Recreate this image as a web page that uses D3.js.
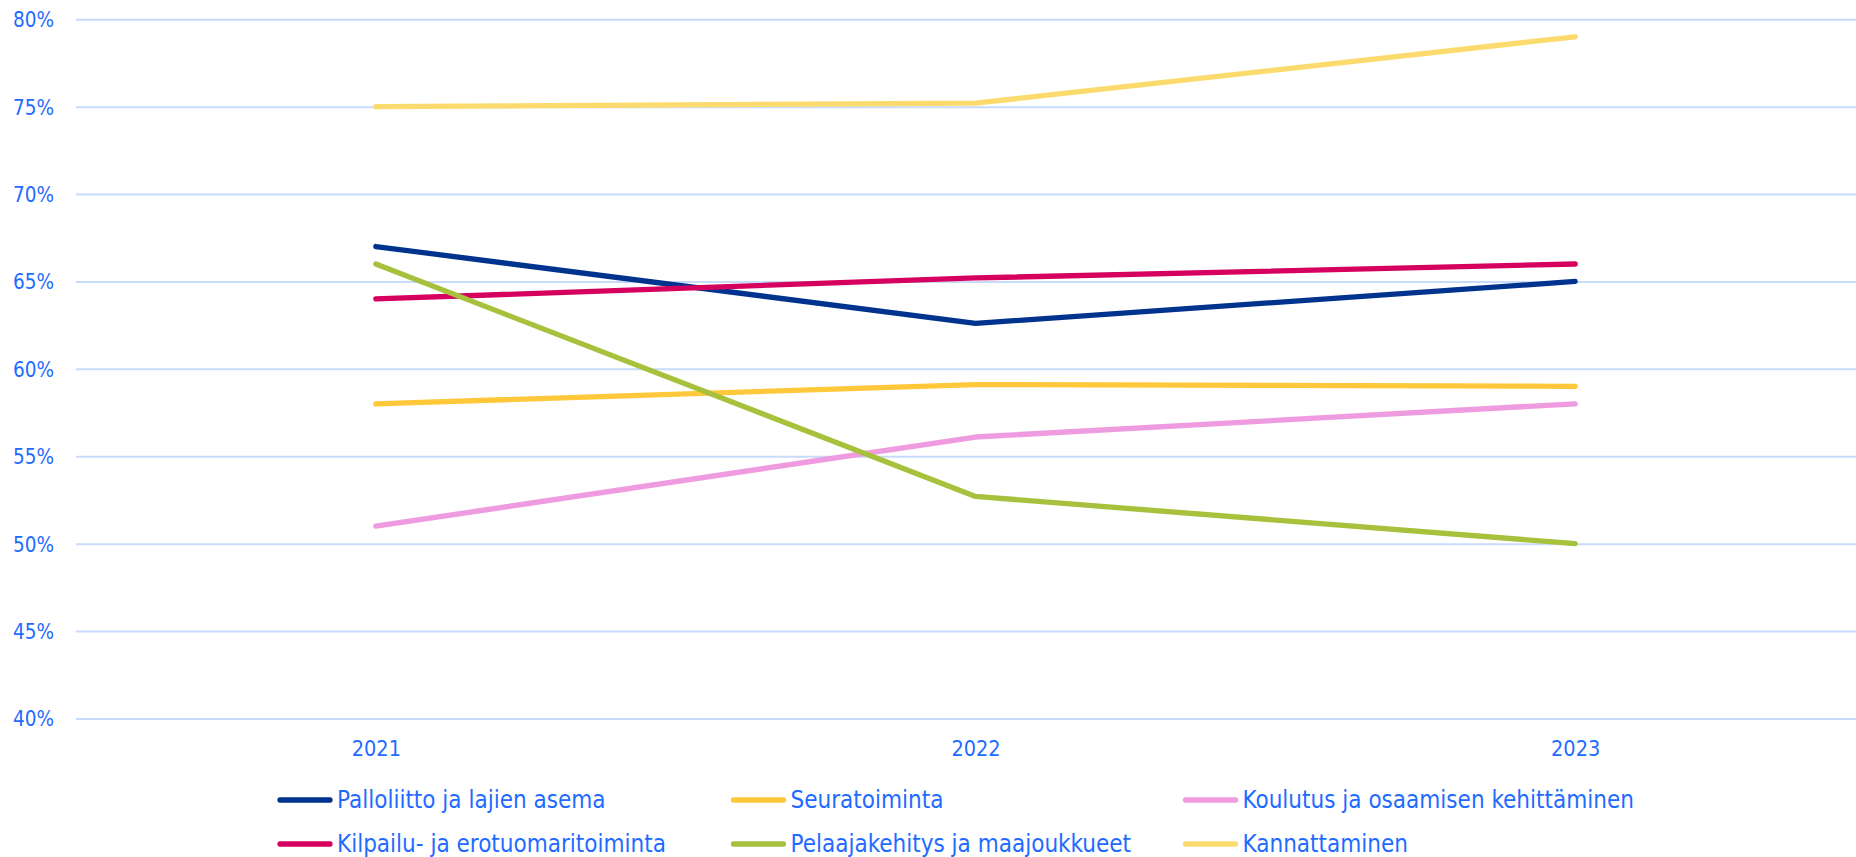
<!DOCTYPE html>
<html>
<head>
<meta charset="utf-8">
<script src="https://cdn.jsdelivr.net/npm/d3@7"></script>
<style>
  html, body { margin: 0; padding: 0; background: #fff; }
  svg { display: block; }
  text { font-family: "DejaVu Sans Condensed", "DejaVu Sans", sans-serif; font-stretch: condensed; fill: #1f6bff; }
</style>
</head>
<body>
<svg id="chart" width="1856" height="857"></svg>
<script>
const years = ["2021", "2022", "2023"];
const seriesNames = [
  "Palloliitto ja lajien asema",
  "Seuratoiminta",
  "Koulutus ja osaamisen kehittäminen",
  "Kilpailu- ja erotuomaritoiminta",
  "Pelaajakehitys ja maajoukkueet",
  "Kannattaminen"
];
const palloliitto = [67, 62.6, 65];
const seuratoiminta = [58, 59.1, 59];
const koulutus = [51, 56.1, 58];
const kilpailu = [64, 65.2, 66];
const pelaajakehitys = [66, 52.7, 50];
const kannattaminen = [75, 75.2, 79];
const seriesColors = ["#00338d", "#ffc83a", "#ef9be0", "#d6005f", "#a8c13d", "#fcdb6e"];
const yTicks = [40, 45, 50, 55, 60, 65, 70, 75, 80];

const seriesValues = [palloliitto, seuratoiminta, koulutus, kilpailu, pelaajakehitys, kannattaminen];

const W = 1856, H = 857;
const plotLeft = 76, plotRight = 1875, plotTop = 19.3, plotBottom = 718.4;

const svg = d3.select("#chart");

const x = d3.scalePoint().domain(years).range([plotLeft, plotRight]).padding(0.5);
const y = d3.scaleLinear().domain([40, 80]).range([plotBottom, plotTop]);

// Y axis with gridlines
const yAxis = d3.axisLeft(y)
  .tickValues(yTicks)
  .tickFormat(d => d + "%")
  .tickSizeInner(-(W - plotLeft))
  .tickSizeOuter(0)
  .tickPadding(22);

const yg = svg.append("g").attr("transform", `translate(${plotLeft},0)`).call(yAxis);
yg.select(".domain").remove();
yg.selectAll(".tick line").attr("stroke", "#c9dbfb").attr("stroke-width", 2);
yg.selectAll(".tick text")
  .attr("font-size", 20.5)
  .attr("fill", "#1f6bff")
  .style("font-family", "\"DejaVu Sans Condensed\", \"DejaVu Sans\", sans-serif")
  .attr("dy", "0.36em");

// X axis labels
const xAxis = d3.axisBottom(x).tickSize(0).tickPadding(0);
const xg = svg.append("g").attr("transform", `translate(0,${plotBottom})`).call(xAxis);
xg.select(".domain").remove();
xg.selectAll(".tick text")
  .attr("font-size", 21.5)
  .attr("fill", "#1f6bff")
  .style("font-family", "\"DejaVu Sans Condensed\", \"DejaVu Sans\", sans-serif")
  .attr("y", 37.5)
  .attr("dy", 0);

// Lines
const line = d3.line()
  .x((d, i) => x(years[i]))
  .y(d => y(d));

svg.append("g").selectAll("path")
  .data(seriesValues)
  .join("path")
  .attr("d", d => line(d))
  .attr("fill", "none")
  .attr("stroke", (d, i) => seriesColors[i])
  .attr("stroke-width", 5.3)
  .attr("stroke-linecap", "round")
  .attr("stroke-linejoin", "round");

// Legend
const legendCols = [280, 733.5, 1185.5];
const legendRows = [800, 844];
const lg = svg.append("g");
seriesNames.forEach((name, i) => {
  const cx = legendCols[i % 3];
  const cy = legendRows[Math.floor(i / 3)];
  lg.append("line")
    .attr("x1", cx).attr("x2", cx + 50)
    .attr("y1", cy).attr("y2", cy)
    .attr("stroke", seriesColors[i])
    .attr("stroke-width", 5.3)
    .attr("stroke-linecap", "round");
  lg.append("text")
    .attr("x", cx + 57)
    .attr("y", cy + 8.3)
    .attr("font-size", 24)
    .text(name);
});
</script>
</body>
</html>
